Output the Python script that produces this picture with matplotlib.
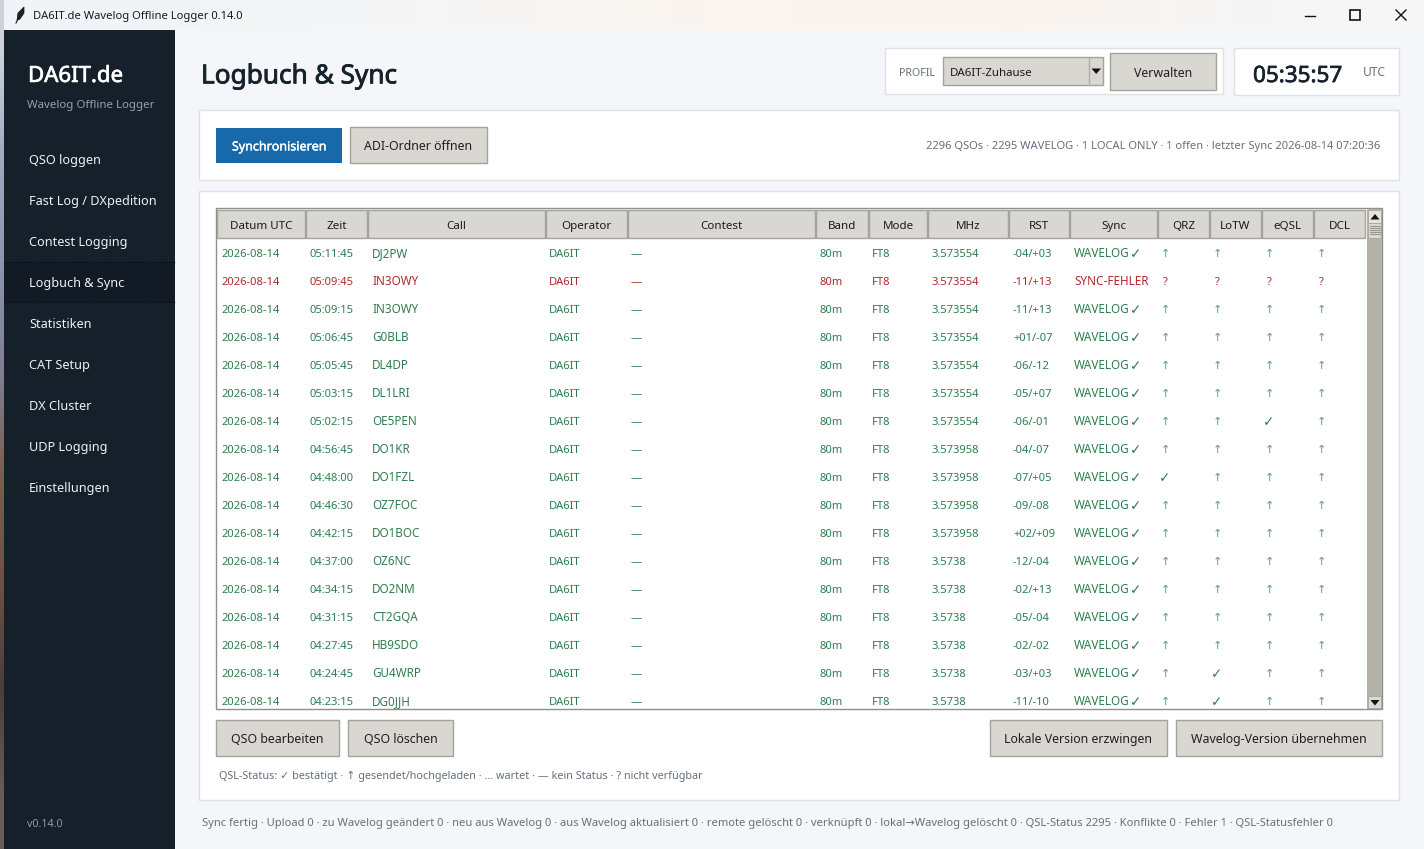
#!/usr/bin/env python3
# Nachbau des Logbuch-Fensters, alles in Pixelkoordinaten auf einer einzigen Achse
import matplotlib
matplotlib.use("Agg")
import matplotlib.patheffects as pe
import matplotlib.pyplot as plt
import numpy as np
from matplotlib.patches import Polygon, Rectangle

plt.rcParams["font.family"] = ["Noto Sans", "DejaVu Sans"]

W, H = 1424, 849

NAV_ITEMS = ["QSO loggen", "Fast Log / DXpedition", "Contest Logging", "Logbuch & Sync",
             "Statistiken", "CAT Setup", "DX Cluster", "UDP Logging", "Einstellungen"]

HEADERS = ["Datum UTC", "Zeit", "Call", "Operator", "Contest", "Band", "Mode",
           "MHz", "RST", "Sync", "QRZ", "LoTW", "eQSL", "DCL"]

TIMES = ["05:11:45", "05:09:45", "05:09:15", "05:06:45", "05:05:45", "05:03:15",
         "05:02:15", "04:56:45", "04:48:00", "04:46:30", "04:42:15", "04:37:00",
         "04:34:15", "04:31:15", "04:27:45", "04:24:45", "04:23:15"]
CALLS = ["DJ2PW", "IN3OWY", "IN3OWY", "G0BLB", "DL4DP", "DL1LRI", "OE5PEN", "DO1KR",
         "DO1FZL", "OZ7FOC", "DO1BOC", "OZ6NC", "DO2NM", "CT2GQA", "HB9SDO", "GU4WRP",
         "DG0JJH"]
FREQS = ["3.573554"] * 7 + ["3.573958"] * 4 + ["3.5738"] * 6
RST = ["-04/+03", "-11/+13", "-11/+13", "+01/-07", "-06/-12", "-05/+07", "-06/-01",
       "-04/-07", "-07/+05", "-09/-08", "+02/+09", "-12/-04", "-02/+13", "-05/-04",
       "-02/-02", "-03/+03", "-11/-10"]
ERROR_ROWS = [1]
QRZ_CONFIRMED = [8]
LOTW_CONFIRMED = [15, 16]
EQSL_CONFIRMED = [6]
DCL_CONFIRMED = []

# Spaltengrenzen der Kopfzeile
COL_EDGES = [217, 306, 368, 546, 628, 816, 869, 928, 1009, 1070, 1158, 1210, 1262, 1314, 1366]
ROW_TOP, ROW_STEP = 253, 28

GREEN = "#2f7d4f"
RED = "#ad2a2e"
ARROW = "#5f9c7c"
INK = "#17222c"
MUTED = "#65707d"
BTN = "#d9d7d1"
BTN_EDGE = "#a3a29c"

fig = plt.figure(figsize=(W / 100, H / 100), dpi=100)
ax = fig.add_axes([0, 0, 1, 1])
ax.set_xlim(0, W)
ax.set_ylim(H, 0)
ax.axis("off")


def rect(x0, y0, x1, y1, fc, ec="none", lw=1.0, z=1):
    ax.add_patch(Rectangle((x0, y0), x1 - x0, y1 - y0, facecolor=fc, edgecolor=ec,
                           linewidth=lw, zorder=z))


def label(x, y, s, px=11.2, color=INK, ha="left", heavy=0.0, z=5):
    # y ist die Mitte der Grossbuchstaben, Grundlinie fest damit die Zeilen gleich stehen
    t = ax.text(x, y + 0.357 * px, s, fontsize=px * 0.72, color=color, ha=ha, va="baseline", zorder=z)
    if heavy:
        # Noto Sans hat hier kein Semibold, also leicht nachziehen
        t.set_path_effects([pe.withStroke(linewidth=heavy, foreground=color)])


def button(x0, y0, x1, y1, s, px=12.4):
    rect(x0, y0, x1, y1, BTN, BTN_EDGE, 1.0, z=3)
    label((x0 + x1) / 2, (y0 + y1) / 2 + 1, s, px=px, color="#1f1f1f", ha="center")


# Hintergrund: Desktop-Streifen links, Titelleiste mit leichtem Verlauf
rect(0, 0, W, H, "#f4f6f9", z=0)
strip = np.array([[[0.80, 0.82, 0.86]], [[0.62, 0.66, 0.75]], [[0.55, 0.58, 0.68]],
                  [[0.50, 0.50, 0.58]], [[0.48, 0.36, 0.30]], [[0.42, 0.32, 0.27]],
                  [[0.30, 0.24, 0.22]], [[0.42, 0.36, 0.33]]])
ax.imshow(strip, extent=(0, 4, H, 0), aspect="auto", zorder=0.5, interpolation="bilinear")
bar = np.array([[[0.945, 0.955, 0.97], [0.965, 0.965, 0.965], [0.985, 0.96, 0.94],
                 [0.985, 0.955, 0.93], [0.965, 0.965, 0.97]]])
ax.imshow(bar, extent=(4, W, 30, 0), aspect="auto", zorder=0.6, interpolation="bilinear")
ax.set_xlim(0, W)
ax.set_ylim(H, 0)

# Titelleiste
ax.add_patch(Polygon([[17, 20], [18, 13], [24, 7], [24, 13], [20, 19]],
                     facecolor="#222222", edgecolor="#111111", lw=0.5, zorder=5))
ax.plot([16, 19], [23, 17], color="#111111", lw=0.8, zorder=5)
label(33, 15, "DA6IT.de Wavelog Offline Logger 0.14.0", px=11.2, color="#1a1a1a")
ax.plot([1305, 1315], [15.5, 15.5], color="#111111", lw=1.0, zorder=5)
rect(1350, 10, 1360, 20, "none", "#111111", 1.2, z=5)
ax.plot([1396, 1406], [10, 20], color="#111111", lw=1.0, zorder=5)
ax.plot([1396, 1406], [20, 10], color="#111111", lw=1.0, zorder=5)

# Seitenleiste
rect(4, 30, 175, H, "#15202b", z=1)
label(28, 74, "DA6IT.de", px=22.2, color="#ffffff", heavy=0.5)
label(27, 104, "Wavelog Offline Logger", px=11.5, color="#93a1ae")
rect(4, 262, 175, 302, "#121b25", z=2)
ax.plot([4, 175], [262, 262], color="#05090d", lw=0.8, ls=":", zorder=3)
ax.plot([4, 175], [301.5, 301.5], color="#05090d", lw=0.8, ls=":", zorder=3)
for i, item in enumerate(NAV_ITEMS):
    label(29, 159.5 + i * 41, item, px=12.7, color="#edf1f4")
label(27, 823, "v0.14.0", px=10.7, color="#8e9ba8")

# Kopfbereich
label(201, 74, "Logbuch & Sync", px=26.2, color=INK, heavy=0.6)
rect(885, 48, 1223, 94, "#ffffff", "#dee2e8", z=2)
label(899, 72, "PROFIL", px=10.7, color=MUTED)
rect(943, 57, 1103, 85, BTN, BTN_EDGE, z=3)
ax.plot([1089, 1089], [58, 85], color="#b0aea8", lw=1, zorder=4)
ax.add_patch(Polygon([[1091.5, 68.5], [1101, 68.5], [1096.2, 74]], facecolor="#111111", zorder=5))
label(950, 72, "DA6IT-Zuhause", px=11.5, color="#1a1a1a")
button(1110, 53, 1216, 90, "Verwalten")
rect(1234, 48, 1399, 95, "#ffffff", "#dee2e8", z=2)
label(1253, 74, "05:35:57", px=22.5, color=INK, heavy=0.5)
label(1363, 72, "UTC", px=12, color=MUTED)

# Werkzeugleiste
rect(199, 110, 1399, 180, "#ffffff", "#dee2e8", z=2)
rect(216, 128, 342, 163, "#1769aa", z=3)
label(279, 146, "Synchronisieren", px=12.5, color="#ffffff", ha="center", heavy=0.25)
button(350, 127, 487, 163, "ADI-Ordner öffnen", px=12.3)
label(1380, 145.5, "2296 QSOs · 2295 WAVELOG · 1 LOCAL ONLY · 1 offen · letzter Sync 2026-08-14 07:20:36",
      px=11.17, color=MUTED, ha="right")

# Tabelle
rect(199, 191, 1399, 800, "#ffffff", "#dee2e8", z=2)
rect(216, 208, 1382, 709, "#ffffff", "#8f8f8a", z=2.5)
for j, head in enumerate(HEADERS):
    x0, x1 = COL_EDGES[j], COL_EDGES[j + 1]
    rect(x0, 210, x1 - 1, 238, BTN, "#a3a29d", z=3)
    label((x0 + x1) / 2 - 0.5, 225, head, px=11.6, color="#1c1c1c", ha="center")

QSL_COLUMNS = [QRZ_CONFIRMED, LOTW_CONFIRMED, EQSL_CONFIRMED, DCL_CONFIRMED]
for i, t in enumerate(TIMES):
    y = ROW_TOP + i * ROW_STEP
    is_error = i in ERROR_ROWS
    col = RED if is_error else GREEN
    cells = ["2026-08-14", t, CALLS[i], "DA6IT", "—", "80m", "FT8", FREQS[i], RST[i],
             "SYNC-FEHLER" if is_error else "WAVELOG"]
    for j, cell in enumerate(cells):
        shift = {3: -1, 4: -1, 6: -1}.get(j, 0)
        # Grossbuchstaben laufen im Original etwas breiter
        size = 11.7 if j in (2, 9) else 11.2
        label(COL_EDGES[j] + 4 + shift, y, cell, px=size, color=col)
    if not is_error:
        label(1130, y, "✓", px=13.5, color=col)
    for k, confirmed in enumerate(QSL_COLUMNS):
        cx = COL_EDGES[10 + k] + 7
        if is_error:
            label(cx, y, "?", color=col, ha="center")
        elif i in confirmed:
            label(cx, y, "✓", px=13.5, color=col, ha="center")
        else:
            label(cx, y, "↑", color=ARROW, ha="center")

# Scrollbalken
rect(1367, 209, 1382, 709, "#b4b1a6", z=3)
rect(1368, 210, 1381, 223, "#e6e4de", "#a8a69f", 0.6, z=4)
ax.add_patch(Polygon([[1370.5, 219.5], [1379.5, 219.5], [1375, 214]], facecolor="#111111", zorder=5))
rect(1368, 223, 1381, 238, "#dcdad4", "#a8a69f", 0.6, z=4)
for gy in np.arange(226, 236, 2):
    ax.plot([1370, 1380], [gy, gy], color="#9a9892", lw=0.8, zorder=5)
rect(1368, 696, 1381, 708, "#dcdad4", "#a8a69f", 0.6, z=4)
ax.add_patch(Polygon([[1370.5, 700], [1379.5, 700], [1375, 705.5]], facecolor="#111111", zorder=5))

# Knoepfe unten
button(216, 720, 339, 756, "QSO bearbeiten")
button(348, 720, 453, 756, "QSO löschen")
button(990, 720, 1167, 756, "Lokale Version erzwingen")
button(1176, 720, 1382, 756, "Wavelog-Version übernehmen")

label(219, 775, "QSL-Status: ✓ bestätigt · ↑ gesendet/hochgeladen · ... wartet · — kein Status · ? nicht verfügbar",
      px=10.85, color=MUTED)
label(202, 822, "Sync fertig · Upload 0 · zu Wavelog geändert 0 · neu aus Wavelog 0 · aus Wavelog aktualisiert 0 · "
      "remote gelöscht 0 · verknüpft 0 · lokal→Wavelog gelöscht 0 · QSL-Status 2295 · Konflikte 0 · Fehler 1 · QSL-Statusfehler 0",
      px=11.17, color=MUTED)

fig.savefig("out.png", dpi=100)
